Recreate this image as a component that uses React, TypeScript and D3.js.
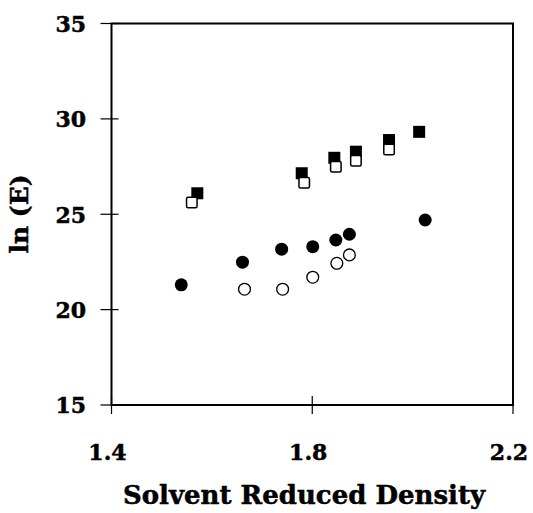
import React from "react";
import * as d3 from "d3";

const xTicks = [1.4, 1.8, 2.2];
const yTicks = [15, 20, 25, 30, 35];
const xTickLabels = ["1.4", "1.8", "2.2"];
const yTickLabels = ["15", "20", "25", "30", "35"];

const filledSquareX = [1.571, 1.779, 1.844, 1.887, 1.953, 2.013];
const filledSquareY = [26.1, 27.15, 27.96, 28.28, 28.89, 29.32];
const openSquareX = [1.56, 1.784, 1.847, 1.887, 1.953];
const openSquareY = [25.61, 26.65, 27.49, 27.81, 28.4];
const filledCircleX = [1.539, 1.661, 1.739, 1.801, 1.847, 1.874, 2.025];
const filledCircleY = [21.3, 22.49, 23.17, 23.3, 23.65, 23.95, 24.7];
const openCircleX = [1.665, 1.741, 1.801, 1.849, 1.874];
const openCircleY = [21.07, 21.07, 21.7, 22.43, 22.87];

const W = 533;
const H = 513;
const L = 111.5, R = 513, T = 23.5, B = 405;
const FONT = "'DejaVu Serif', serif";

export default function App() {
  const x = d3.scaleLinear().domain([1.4, 2.2]).range([L, R]);
  const y = d3.scaleLinear().domain([15, 35]).range([B, T]);
  const sq = 12;
  const cr = 6.5;
  const textStyle = { stroke: "#000", strokeWidth: 0.5 };
  return (
    <svg width={W} height={H} style={{ position: "absolute", left: 0, top: 0, background: "#fff" }}>
      <rect x={L} y={T} width={R - L} height={B - T} fill="none" stroke="#000" strokeWidth={2} />
      {yTicks.map((t, i) => (
        <g key={"y" + i}>
          <line x1={L - 11} x2={L + 7} y1={y(t)} y2={y(t)} stroke="#000" strokeWidth={1.2} />
          <text x={86} y={y(t)} dy="0.38em" textAnchor="end" fontFamily={FONT} fontWeight="bold" fontSize={22} style={textStyle}>
            {yTickLabels[i]}
          </text>
        </g>
      ))}
      {xTicks.map((t, i) => (
        <g key={"x" + i}>
          <line x1={x(t)} x2={x(t)} y1={B - 9} y2={B + 9} stroke="#000" strokeWidth={1.2} />
          <text x={x(t) - 4} y={460} textAnchor="middle" fontFamily={FONT} fontWeight="bold" fontSize={22} style={textStyle}>
            {xTickLabels[i]}
          </text>
        </g>
      ))}
      <text x={304} y={504} textAnchor="middle" fontFamily={FONT} fontWeight="bold" fontSize={26} style={textStyle}>
        Solvent Reduced Density
      </text>
      <text
        transform={`translate(28,214) rotate(-90)`}
        textAnchor="middle"
        fontFamily={FONT}
        fontWeight="bold"
        fontSize={25}
        style={textStyle}
      >
        ln (E)
      </text>
      {filledSquareX.map((v, i) => (
        <rect key={"fs" + i} x={x(v) - sq / 2} y={y(filledSquareY[i]) - sq / 2} width={sq} height={sq} fill="#000" />
      ))}
      {openSquareX.map((v, i) => (
        <rect
          key={"os" + i}
          x={x(v) - sq / 2 + 0.75}
          y={y(openSquareY[i]) - sq / 2 + 0.75}
          width={sq - 1.5}
          height={sq - 1.5}
          rx={1.5}
          fill="#fff"
          stroke="#000"
          strokeWidth={1.5}
        />
      ))}
      {filledCircleX.map((v, i) => (
        <circle key={"fc" + i} cx={x(v)} cy={y(filledCircleY[i])} r={cr} fill="#000" />
      ))}
      {openCircleX.map((v, i) => (
        <circle key={"oc" + i} cx={x(v)} cy={y(openCircleY[i])} r={cr - 0.6} fill="#fff" stroke="#000" strokeWidth={1.3} />
      ))}
    </svg>
  );
}
